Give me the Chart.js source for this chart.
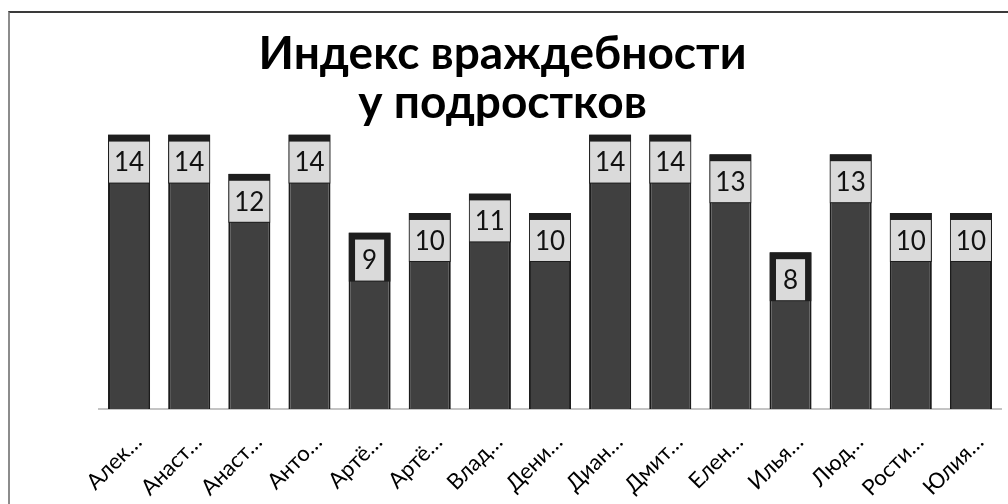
<!DOCTYPE html>
<html>
<head>
<meta charset="utf-8">
<script src="https://cdn.jsdelivr.net/npm/chart.js@4"></script>
<style>
  html, body { margin: 0; padding: 0; background: #ffffff; }
  #wrap { position: relative; width: 1008px; height: 504px; }
  #frame { position: absolute; left: 8px; top: 11px; right: -4px; bottom: -4px;
           border-top: 2px solid #3a3a3a; border-left: 2px solid #8c8c8c; pointer-events: none; }
  canvas { position: absolute; left: 0; top: 0; }
</style>
</head>
<body>
<div id="wrap">
  <canvas id="c" width="1008" height="504"></canvas>
  <div id="frame"></div>
</div>
<script>
const TITLE_LINES = ['Индекс враждебности', 'у подростков'];
const categories = ['Алек…', 'Анаст…', 'Анаст…', 'Анто…', 'Артё…', 'Артё…', 'Влад…', 'Дени…',
                    'Диан…', 'Дмит…', 'Елен…', 'Илья…', 'Люд…', 'Рости…', 'Юлия…'];
const hostility = [14, 14, 12, 14, 9, 10, 11, 10, 14, 14, 13, 8, 13, 10, 10];
const Y_MIN = 0;
const Y_MAX = 14.36;

const FONT = "Lato, 'Open Sans', 'Noto Sans', sans-serif";

const labelBoxes = {
  id: 'labelBoxes',
  afterDatasetsDraw(chart) {
    const ctx = chart.ctx;
    const meta = chart.getDatasetMeta(0);
    const data = chart.data.datasets[0].data;
    meta.data.forEach((bar, i) => {
      const p = bar.getProps(['x', 'y', 'base', 'width'], true);
      const left = p.x - p.width / 2;
      const top = p.y;
      const text = String(data[i]);
      ctx.save();
      ctx.beginPath();
      ctx.rect(left, top, p.width, p.base - top);
      ctx.clip();
      ctx.font = "26px " + FONT;
      const tw = ctx.measureText(text).width;
      const bw = Math.min(tw + 14, p.width - 2);
      const bh = 41;
      const bx = p.x - bw / 2;
      const by = top + 7;
      ctx.fillStyle = '#1e1e1e';
      ctx.fillRect(left, top, p.width, by + bh + 1 - top);
      ctx.fillStyle = '#dadada';
      ctx.fillRect(bx, by, bw, bh);
      ctx.fillStyle = '#111111';
      ctx.textAlign = 'center';
      ctx.textBaseline = 'middle';
      ctx.fillText(text, p.x, by + bh / 2 + 1);
      ctx.restore();
    });
  }
};

new Chart(document.getElementById('c'), {
  type: 'bar',
  data: {
    labels: categories,
    datasets: [{
      data: hostility,
      backgroundColor: '#404040',
      borderColor: '#1c1c1c',
      borderWidth: 2,
      borderSkipped: 'start',
      barPercentage: 0.7,
      categoryPercentage: 1.0
    }]
  },
  options: {
    responsive: false,
    animation: false,
    devicePixelRatio: 1,
    layout: { padding: { left: 4, right: 7, top: 0, bottom: 0 } },
    plugins: {
      legend: { display: false },
      tooltip: { enabled: false },
      title: {
        display: true,
        text: TITLE_LINES,
        color: '#000000',
        font: { family: FONT, size: 46, weight: 'bold', lineHeight: 1.06 },
        padding: { top: 30, bottom: 0 }
      }
    },
    scales: {
      x: {
        grid: { display: false },
        border: { display: true, color: '#c4c4c4', width: 2 },
        ticks: {
          color: '#000000',
          font: { family: FONT, size: 22 },
          maxRotation: 45,
          minRotation: 45,
          autoSkip: false,
          labelOffset: 9,
          padding: 12
        },
        afterFit(scale) { scale.height = 95; }
      },
      y: {
        min: Y_MIN,
        max: Y_MAX,
        display: true,
        grid: { display: false },
        border: { display: false },
        ticks: { display: false },
        afterFit(scale) { scale.width = 95; }
      }
    }
  },
  plugins: [labelBoxes]
});
</script>
</body>
</html>
